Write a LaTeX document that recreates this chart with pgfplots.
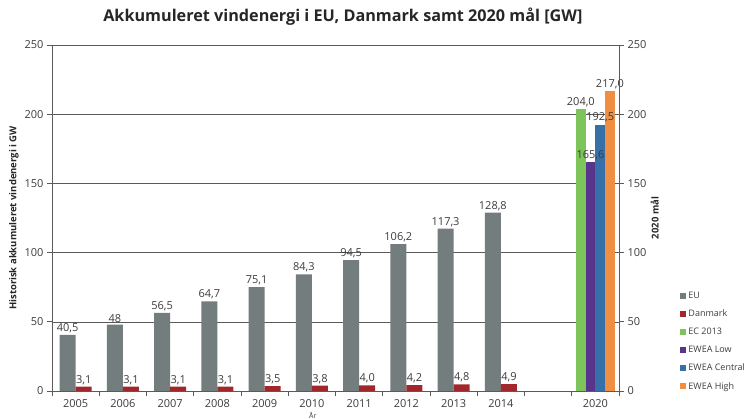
\documentclass[border=0pt]{standalone}
\usepackage{fontspec}
\setmainfont{Open Sans}
\usepackage{pgfplots}
\pgfplotsset{compat=1.18}
\definecolor{cEU}{RGB}{115,125,125}
\definecolor{cDK}{RGB}{160,40,45}
\definecolor{cEC}{RGB}{125,197,90}
\definecolor{cLow}{RGB}{88,53,138}
\definecolor{cCen}{RGB}{55,112,168}
\definecolor{cHigh}{RGB}{240,143,66}
\definecolor{txt}{RGB}{60,60,60}
\definecolor{axl}{RGB}{90,90,90}
\pgfplotsset{
  mybar/.style={ybar, bar shift=0pt, draw=none, fill=#1,
    legend image code/.code={\fill[#1] (0pt,-3pt) rectangle (6pt,3pt);},
    nodes near coords, point meta=explicit symbolic},
}
\begin{document}
\begin{tikzpicture}
\begin{axis}[
  name=ax, at={(0pt,0pt)}, anchor=south west,
  scale only axis, width=567pt, height=346pt,
  xmin=-0.5, xmax=11.5, ymin=0, ymax=250,
  ytick={0,50,100,150,200,250},
  xtick={0,1,2,3,4,5,6,7,8,9,11},
  xticklabels={2005,2006,2007,2008,2009,2010,2011,2012,2013,2014,2020},
  minor xtick={-0.5,0.5,1.5,2.5,3.5,4.5,5.5,6.5,7.5,8.5,9.5,10.5,11.5},
  major x tick style={draw=none},
  tick align=outside, tick pos=left,
  major tick length=5pt, minor tick length=5pt,
  ymajorgrids, grid style={color=axl, line width=0.5pt},
  axis line style={color=axl, line width=0.7pt},
  tick style={color=axl, line width=0.7pt},
  /pgf/number format/assume math mode=true,
  ticklabel style={font=\fontsize{11}{13}\selectfont, text=txt},
  ylabel={Historisk akkumuleret vindenergi i GW},
  every axis y label/.style={at={(axis description cs:-0.067,0.5)}, rotate=90, anchor=center, font=\bfseries\fontsize{9.5}{11}\selectfont, text=black!85},
  xlabel={År},
  every axis x label/.style={at={(axis description cs:0.46,0)}, anchor=south, yshift=-27.5pt, inner sep=0pt, font=\fontsize{7}{8}\selectfont, text=txt},
  title={Akkumuleret vindenergi i EU, Danmark samt 2020 mål [GW]},
  title style={at={(axis description cs:0.513,1)}, anchor=base, yshift=17pt, font=\bfseries\fontsize{16.2}{19}\selectfont, text=black!85},
  every node near coord/.append style={font=\fontsize{11}{13}\selectfont, text=txt, anchor=south, inner sep=2pt},
  legend style={at={(1.108,0.292)}, anchor=north west, draw=none, fill=none,
    font=\fontsize{9}{11}\selectfont, text=txt, row sep=5.9pt, inner sep=0pt},
  legend cell align=left,
]
\addplot[mybar=cEU, bar width=0.34] coordinates {
 (-0.17,40.5) [40,5] (0.83,48) [48] (1.83,56.5) [56,5] (2.83,64.7) [64,7] (3.83,75.1) [75,1]
 (4.83,84.3) [84,3] (5.83,94.5) [94,5] (6.83,106.2) [106,2] (7.83,117.3) [117,3] (8.83,128.8) [128,8]};
\addlegendentry{EU}
\addplot[mybar=cDK, bar width=0.34] coordinates {
 (0.17,3.1) [3,1] (1.17,3.1) [3,1] (2.17,3.1) [3,1] (3.17,3.1) [3,1] (4.17,3.5) [3,5]
 (5.17,3.8) [3,8] (6.17,4.0) [4,0] (7.17,4.2) [4,2] (8.17,4.8) [4,8] (9.17,4.9) [4,9]};
\addlegendentry{Danmark}
\addplot[mybar=cEC, bar width=0.205] coordinates {(10.6925,204.0) [204,0]};
\addlegendentry{EC 2013}
\addplot[mybar=cLow, bar width=0.205] coordinates {(10.8975,165.6) [165,6]};
\addlegendentry{EWEA Low}
\addplot[mybar=cCen, bar width=0.205] coordinates {(11.1025,192.5) [192,5]};
\addlegendentry{EWEA Central}
\addplot[mybar=cHigh, bar width=0.205] coordinates {(11.3075,217.0) [217,0]};
\addlegendentry{EWEA High}
\end{axis}
\begin{axis}[
  at={(0pt,0pt)}, anchor=south west,
  scale only axis, width=567pt, height=346pt,
  xmin=-0.5, xmax=11.5, ymin=0, ymax=250,
  axis x line=none, axis y line*=right,
  ytick={0,50,100,150,200,250},
  tick align=outside, major tick length=5pt,
  axis line style={color=axl, line width=0.7pt},
  tick style={color=axl, line width=0.7pt},
  /pgf/number format/assume math mode=true,
  ticklabel style={font=\fontsize{11}{13}\selectfont, text=txt},
  ylabel={2020 mål},
  every axis y label/.style={at={(axis description cs:1.063,0.5)}, rotate=90, anchor=center, font=\bfseries\fontsize{9.5}{11}\selectfont, text=black!85},
]
\addplot[draw=none, forget plot] coordinates {(0,0)};
\end{axis}
\pgfresetboundingbox
\path[use as bounding box] (-52pt,-28pt) rectangle (695pt,391pt);
\end{tikzpicture}
\end{document}
